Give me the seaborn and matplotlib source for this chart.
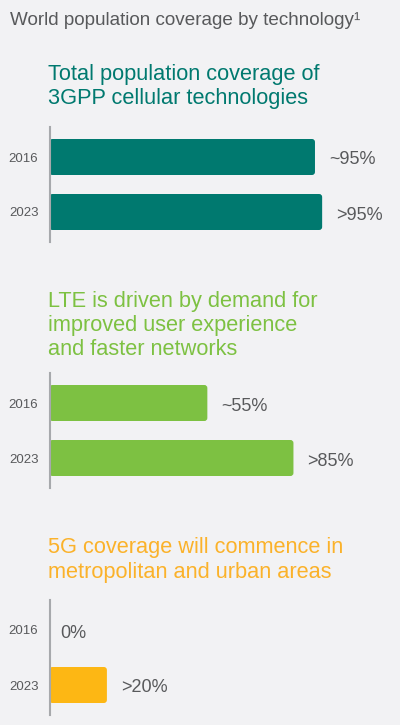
import matplotlib
matplotlib.use("Agg")
import matplotlib.pyplot as plt
import seaborn as sns
import pandas as pd
from matplotlib.patches import FancyBboxPatch

# ---- data ----
years = ["2016", "2023"]
total_values = [92.5, 95]
total_labels = ["~95%", ">95%"]
lte_values = [55, 85]
lte_labels = ["~55%", ">85%"]
nr_values = [0, 20]
nr_labels = ["0%", ">20%"]
title = "World population coverage by technology\u00b9"
total_heading = ["Total population coverage of", "3GPP cellular technologies"]
lte_heading = ["LTE is driven by demand for", "improved user experience", "and faster networks"]
nr_heading = ["5G coverage will commence in", "metropolitan and urban areas"]

# ---- style ----
BG = "#f2f2f4"
TEAL = "#00796f"
GREEN = "#7dc142"
ORANGE = "#fdb714"
ORANGE_TXT = "#fbb22a"
GREY = "#58595b"

sns.set_theme(style="white")
plt.rcParams["font.family"] = ["Liberation Sans", "DejaVu Sans"]

W, H = 400, 725
fig = plt.figure(figsize=(W / 100, H / 100), dpi=100, facecolor=BG)

def px_axes(left, top, right, bottom):
    return fig.add_axes([left / W, 1 - bottom / H, (right - left) / W, (bottom - top) / H])

fig.text(10 / W, 1 - 25 / H, title, fontsize=13.6, color=GREY, va="baseline", ha="left")

PX_PER_PCT = 2.87
AX_LEFT, AX_RIGHT = 49.5, 392
panels = [
    (total_values, total_labels, TEAL, TEAL, total_heading, 80.0, 127),
    (lte_values, lte_labels, GREEN, GREEN, lte_heading, 306.5, 373),
    (nr_values, nr_labels, ORANGE, ORANGE_TXT, nr_heading, 553.5, 600),
]

for vals, labels, color, tcolor, heading, base0, top in panels:
    for i, line in enumerate(heading):
        fig.text(48 / W, 1 - (base0 + i * 24.3) / H, line, fontsize=15.7,
                 color=tcolor, va="baseline", ha="left")

    ax = px_axes(AX_LEFT, top, AX_RIGHT, top + 115)
    ax.set_facecolor("none")
    df = pd.DataFrame({"year": years, "value": vals})
    sns.barplot(data=df, x="value", y="year", orient="h", color=color,
                saturation=1, width=36 / 55, ax=ax, edgecolor="none")
    ax.set_xlim(0, (AX_RIGHT - AX_LEFT) / PX_PER_PCT)
    ax.set_ylim(1 + 30 / 55, -30 / 55)

    # rounded bar corners
    r_px = 3.0
    rx = r_px / PX_PER_PCT
    aspect = (r_px / 55) / rx
    for p in list(ax.patches):
        x, y, w, h = p.get_x(), p.get_y(), p.get_width(), p.get_height()
        if w <= 0:
            p.remove()
            continue
        fb = FancyBboxPatch((x, y), w, h,
                            boxstyle=f"round,pad=0,rounding_size={rx}",
                            mutation_aspect=aspect, facecolor=color,
                            edgecolor="none", zorder=2)
        p.remove()
        ax.add_patch(fb)

    for i, (v, lab) in enumerate(zip(vals, labels)):
        off_px = 14 if v > 0 else 10.5
        ax.annotate(lab, xy=(v, i), xytext=(off_px * 0.72, -7.5 * 0.72),
                    textcoords="offset points", ha="left", va="baseline",
                    fontsize=13, color=GREY)

    for s in ["top", "right", "bottom"]:
        ax.spines[s].set_visible(False)
    ax.spines["left"].set_color("#a7a9ac")
    ax.spines["left"].set_linewidth(1.5)
    ax.spines["left"].set_zorder(3)
    ax.set_xticks([])
    ax.tick_params(axis="y", length=0, pad=8, labelsize=9.5, labelcolor=GREY)
    ax.set_xlabel("")
    ax.set_ylabel("")

fig.savefig("out.png", dpi=100, facecolor=BG)
